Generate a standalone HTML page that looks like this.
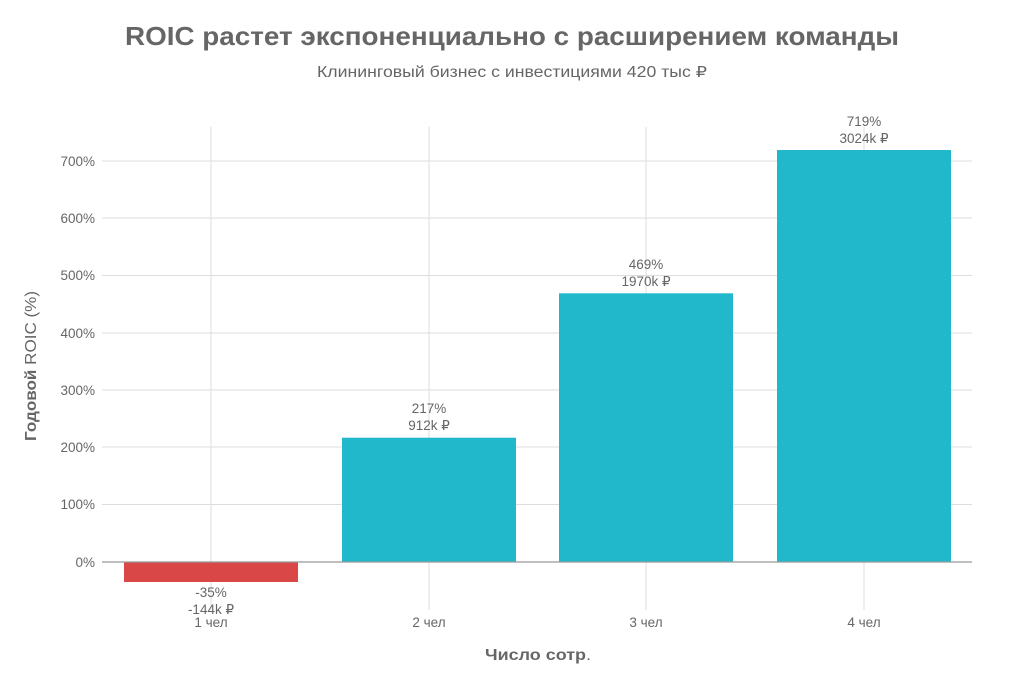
<!DOCTYPE html>
<html><head><meta charset="utf-8"><style>
html,body{margin:0;padding:0;background:#fff;}
svg{display:block;font-family:"Liberation Sans","DejaVu Sans",sans-serif;}
</style></head><body>
<svg width="1024" height="683" viewBox="0 0 1024 683" xmlns="http://www.w3.org/2000/svg">
<text x="512" y="45" text-anchor="middle" font-size="26" font-weight="bold" fill="#666" textLength="774" lengthAdjust="spacingAndGlyphs">ROIC растет экспоненциально с расширением команды</text>
<text x="512" y="77" text-anchor="middle" font-size="15.5" fill="#666" textLength="390" lengthAdjust="spacingAndGlyphs">Клининговый бизнес с инвестициями 420 тыс ₽</text>
<g stroke="#ddd" stroke-width="1">
<line x1="102" y1="161" x2="972" y2="161"/>
<line x1="102" y1="218" x2="972" y2="218"/>
<line x1="102" y1="275.5" x2="972" y2="275.5"/>
<line x1="102" y1="333" x2="972" y2="333"/>
<line x1="102" y1="390" x2="972" y2="390"/>
<line x1="102" y1="447" x2="972" y2="447"/>
<line x1="102" y1="504.5" x2="972" y2="504.5"/>
<line x1="211" y1="127" x2="211" y2="610"/>
<line x1="429" y1="127" x2="429" y2="610"/>
<line x1="646" y1="127" x2="646" y2="610"/>
<line x1="864" y1="127" x2="864" y2="610"/>
</g>
<rect x="124" y="562" width="174" height="20" fill="#d94747"/>
<rect x="342" y="437.7" width="174" height="124.3" fill="#21b8cc"/>
<rect x="559" y="293.3" width="174" height="268.7" fill="#21b8cc"/>
<rect x="777" y="150" width="174" height="412" fill="#21b8cc"/>
<line x1="102" y1="562" x2="972" y2="562" stroke="#999" stroke-width="1.3"/>
<g font-size="13.5" fill="#666" text-anchor="end">
<text x="95" y="166">700%</text><text x="95" y="223">600%</text><text x="95" y="280">500%</text>
<text x="95" y="338">400%</text><text x="95" y="395">300%</text><text x="95" y="452">200%</text>
<text x="95" y="509">100%</text><text x="95" y="567">0%</text>
</g>
<g font-size="13.5" fill="#666" text-anchor="middle">
<text x="211" y="597">-35%</text><text x="211" y="614">-144k ₽</text>
<text x="429" y="413">217%</text><text x="429" y="430">912k ₽</text>
<text x="646" y="269">469%</text><text x="646" y="286">1970k ₽</text>
<text x="864" y="126">719%</text><text x="864" y="143">3024k ₽</text>
<text x="211" y="627">1 чел</text><text x="429" y="627">2 чел</text>
<text x="646" y="627">3 чел</text><text x="864" y="627">4 чел</text>
</g>
<text x="538" y="660" text-anchor="middle" font-size="15.5" fill="#666" textLength="106" lengthAdjust="spacingAndGlyphs"><tspan font-weight="bold">Число сотр</tspan>.</text>
<text transform="translate(36,366) rotate(-90)" text-anchor="middle" font-size="15.5" fill="#666" textLength="150" lengthAdjust="spacingAndGlyphs"><tspan font-weight="bold">Годовой</tspan> ROIC (%)</text>
</svg>
</body></html>
